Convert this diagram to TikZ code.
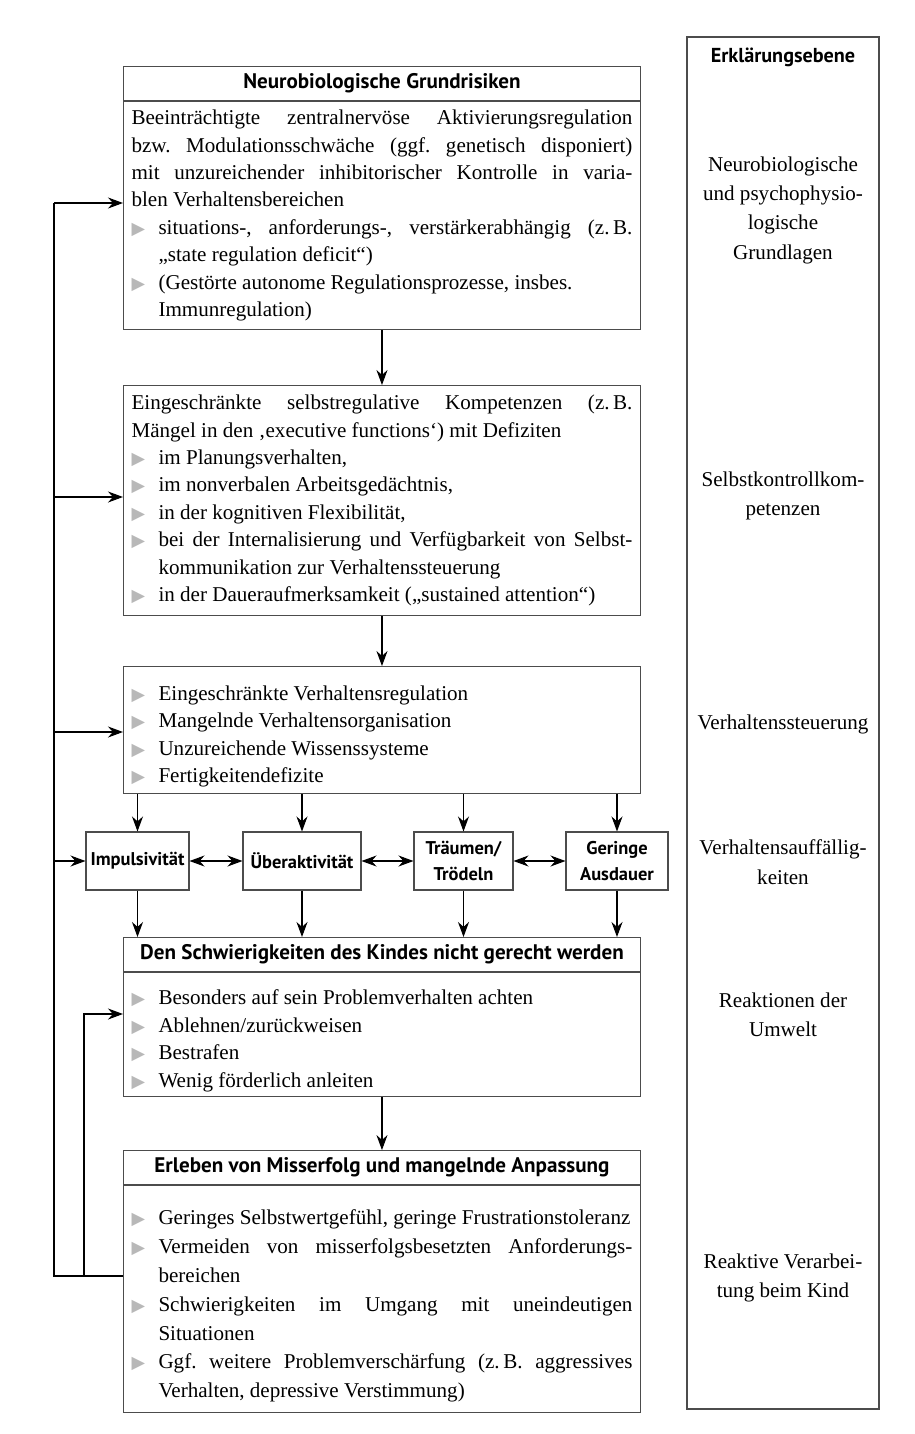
\documentclass[tikz,border=0pt]{standalone}
\usepackage{fontspec}
\setmainfont{Liberation Serif}
\newfontfamily\hdfont{PT Sans}
\newfontfamily\symfont{DejaVu Sans}
\usetikzlibrary{positioning,arrows.meta}
\setlength{\parindent}{0pt}
\frenchspacing
\tolerance=9999
\hbadness=10000
\definecolor{bulgray}{gray}{0.72}
\definecolor{framegray}{gray}{0.3}
\newcommand{\bul}{{\symfont\fontsize{10}{10}\selectfont\color{bulgray}▶}}
\newcommand{\itm}{\par\noindent\hangindent=0.54cm\hangafter=1\makebox[0.54cm][l]{\bul}}
\tikzset{
	frame/.style={draw=framegray, line width=0.6pt},
	hdr/.style={frame, minimum width=10.34cm, minimum height=0.68cm, inner sep=0pt,
		font=\hdfont\bfseries\fontsize{12}{14}\selectfont},
	body/.style={frame, text width=10.02cm, inner xsep=0.16cm, inner ysep=0pt, align=justify,
		font=\fontsize{12}{15.6}\selectfont},
	sym/.style={frame, minimum height=1.16cm, inner sep=0pt, align=center,
		font=\hdfont\bfseries\fontsize{10.5}{14.7}\selectfont},
	lvl/.style={align=center, font=\fontsize{12}{16.7}\selectfont},
	>={Stealth[length=3mm,width=2.2mm]}
}
\begin{document}
\begin{tikzpicture}[x=0.02cm, y=-0.02cm, line width=0.6pt]
	\useasboundingbox (0,0) rectangle (915,1434);

	\node[hdr, anchor=north west] (riskhdr) at (123,66) {Neurobiologische Grundrisiken};
	\node[body, below=0pt of riskhdr, minimum height=4.56cm] (riskbody) {%
		Beeinträchtigte zentralnervöse Aktivierungsregulation\linebreak
		bzw. Modulationsschwäche (ggf. genetisch disponiert)\linebreak
		mit unzureichender inhibitorischer Kontrolle in varia-\linebreak
		blen Verhaltensbereichen
		\itm situations-, anforderungs-, verstärkerabhängig (z.\,B.\linebreak
		„state regulation deficit“)
		\itm (Gestörte autonome Regulationsprozesse, insbes.\newline
		Immunregulation)\par};

	\node[body, below=1.1cm of riskbody, minimum height=4.6cm] (selfreg) {%
		Eingeschränkte selbstregulative Kompetenzen (z.\,B.\linebreak
		Mängel in den ‚executive functions‘) mit Defiziten
		\itm im Planungsverhalten,
		\itm im nonverbalen Arbeitsgedächtnis,
		\itm in der kognitiven Flexibilität,
		\itm bei der Internalisierung und Verfügbarkeit von Selbst-\linebreak
		kommunikation zur Verhaltenssteuerung
		\itm in der Daueraufmerksamkeit („sustained attention“)\par};

	\node[body, below=1.0cm of selfreg, minimum height=2.54cm] (behav) {%
		\itm Eingeschränkte Verhaltensregulation
		\itm Mangelnde Verhaltensorganisation
		\itm Unzureichende Wissenssysteme
		\itm Fertigkeitendefizite\par};

	\node[sym, minimum width=2.06cm] (impuls) at (137.5,861) {Impulsivität};
	\node[sym, minimum width=2.36cm] (overact) at (302,861) {Überaktivität};
	\node[sym, minimum width=1.98cm] (dream) at (463.5,861) {Träumen/\\Trödeln};
	\node[sym, minimum width=2.04cm] (endur) at (617,861) {Geringe\\Ausdauer};

	\node[hdr, anchor=north west] (reacthdr) at (123,937) {Den Schwierigkeiten des Kindes nicht gerecht werden};
	\node[body, below=0pt of reacthdr, minimum height=2.48cm] (reactbody) {%
		\itm Besonders auf sein Problemverhalten achten
		\itm Ablehnen/zurückweisen
		\itm Bestrafen
		\itm Wenig förderlich anleiten\par};

	\node[hdr, below=1.06cm of reactbody] (failhdr) {Erleben von Misserfolg und mangelnde Anpassung};
	\node[body, below=0pt of failhdr, minimum height=4.54cm, font=\fontsize{12}{16.4}\selectfont] (failbody) {%
		\itm Geringes Selbstwertgefühl, geringe Frustrationstoleranz
		\itm Vermeiden von misserfolgsbesetzten Anforderungs-\linebreak
		bereichen
		\itm Schwierigkeiten im Umgang mit uneindeutigen\linebreak
		Situationen
		\itm Ggf. weitere Problemverschärfung (z.\,B. aggressives\linebreak
		Verhalten, depressive Verstimmung)\par};

	\draw[frame] (687,37) rectangle (879,1409);
	\node[font=\hdfont\bfseries\fontsize{11.5}{13}\selectfont] (lvlhead) at (783,57) {Erklärungsebene};
	\node[lvl] (lvlbio) at (783,210) {Neurobiologische\\und psychophysio-\\logische\\Grundlagen};
	\node[lvl] (lvlself) at (783,496) {Selbstkontrollkom-\\petenzen};
	\node[lvl] (lvlctrl) at (783,724) {Verhaltenssteuerung};
	\node[lvl] (lvlsym) at (783,862) {Verhaltensauffällig-\\keiten};
	\node[lvl] (lvlenv) at (783,1015) {Reaktionen der\\Umwelt};
	\node[lvl] (lvlkid) at (783,1278) {Reaktive Verarbei-\\tung beim Kind};

	\coordinate (fbA) at (54,203);
	\coordinate (fbB) at (54,497);
	\coordinate (fbC) at (54,732);
	\coordinate (fbD) at (54,861);
	\coordinate (fbE) at (54,1276);
	\coordinate (fbin) at (84,1276);
	\coordinate (fbinB) at (84,1014);

	\path[->] (riskbody) edge (selfreg);
	\path[->] (selfreg) edge (behav);
	\path[->] (reactbody) edge (failhdr);
	\foreach \s in {impuls, overact, dream, endur} {
		\path[->] (\s.north |- behav.south) edge (\s);
		\path[->] (\s) edge (\s.south |- reacthdr.north);
	}
	\path[<->] (impuls) edge (overact)
		(overact) edge (dream)
		(dream) edge (endur);

	\draw (fbE -| failbody.west) -- (fbE) -- (fbA);
	\path[->] (fbA) edge (fbA -| riskbody.west)
		(fbB) edge (fbB -| selfreg.west)
		(fbC) edge (fbC -| behav.west)
		(fbD) edge (impuls);
	\draw[->] (fbin) -- (fbinB) -- (fbinB -| reactbody.west);
\end{tikzpicture}
\end{document}
